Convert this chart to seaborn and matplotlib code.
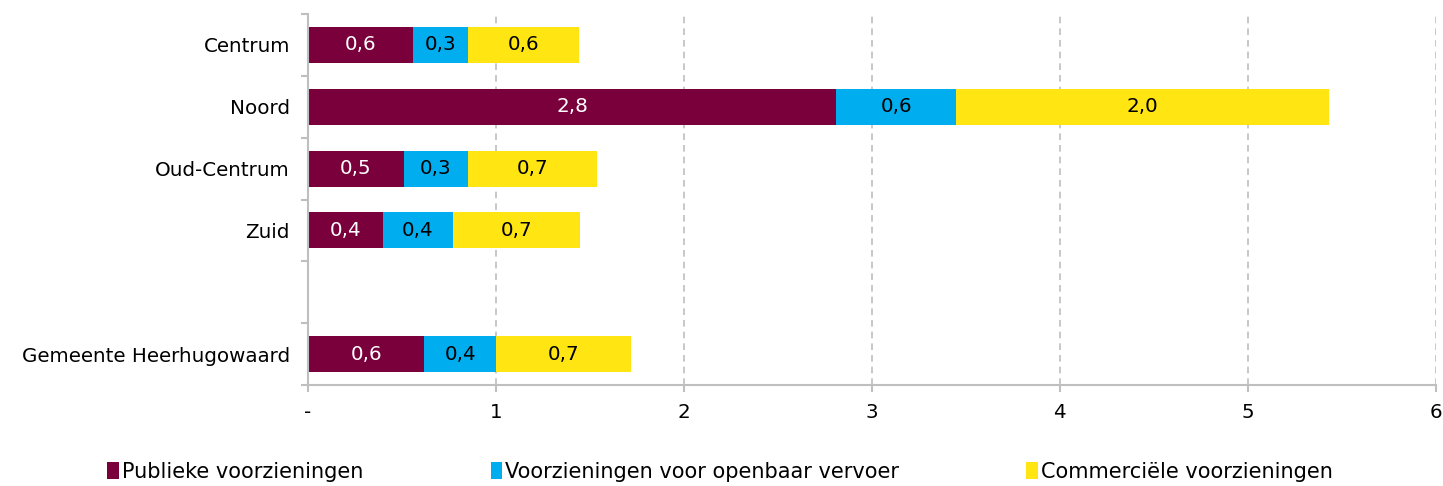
import numpy as np
import pandas as pd
import matplotlib
matplotlib.use("Agg")
import matplotlib.pyplot as plt
from matplotlib.patches import Patch
import seaborn as sns

# --- data ---
regions = ["Centrum", "Noord", "Oud-Centrum", "Zuid", " ", "Gemeente Heerhugowaard"]
publiek = [0.56, 2.81, 0.51, 0.40, 0.0, 0.62]
ov = [0.29, 0.64, 0.34, 0.37, 0.0, 0.38]
commercieel = [0.59, 1.98, 0.69, 0.68, 0.0, 0.72]
series_names = ["Publieke voorzieningen", "Voorzieningen voor openbaar vervoer", "Commerciële voorzieningen"]
colors = ["#7A003C", "#00AEEF", "#FFE512"]
text_colors = ["white", "black", "black"]
xtick_labels = ["-", "1", "2", "3", "4", "5", "6"]

df = pd.DataFrame({"regio": regions, "p": publiek, "o": ov, "c": commercieel})
df["cum_p"] = df["p"]
df["cum_o"] = df["p"] + df["o"]
df["cum_c"] = df["cum_o"] + df["c"]

sns.set_style("white")
plt.rcParams["font.family"] = ["DejaVu Sans"]
plt.rcParams["text.color"] = "black"
plt.rcParams["xtick.color"] = "#BFBFBF"
plt.rcParams["ytick.color"] = "#BFBFBF"
plt.rcParams["xtick.labelcolor"] = "black"
plt.rcParams["ytick.labelcolor"] = "black"

FS = 14.3

fig, ax = plt.subplots(figsize=(14.43, 4.86), dpi=100)
fig.subplots_adjust(left=0.2134, right=0.995, bottom=0.208, top=0.971)

# stacked bars: draw totals first, then smaller cumulative sums on top
for col, color in zip(["cum_c", "cum_o", "cum_p"], colors[::-1]):
    sns.barplot(data=df, x=col, y="regio", order=regions, color=color,
                width=0.58, orient="h", ax=ax, saturation=1, edgecolor="none")

# value labels in the middle of each segment
for i, row in df.iterrows():
    if row["regio"].strip() == "":
        continue
    starts = [0, row["cum_p"], row["cum_o"]]
    vals = [row["p"], row["o"], row["c"]]
    for s, v, tc in zip(starts, vals, text_colors):
        ax.text(s + v / 2, i, f"{v:.1f}".replace(".", ","), ha="center", va="center",
                color=tc, fontsize=FS)

ax.set_xlim(0, 6)
ax.set_ylim(5.5, -0.5)
ax.set_xticks(range(7))
ax.set_xticklabels(xtick_labels, fontsize=FS)
ax.set_yticks(range(len(regions)))
ax.set_yticklabels(regions, fontsize=FS)
ax.set_yticks(np.arange(-0.5, len(regions), 1), minor=True)
ax.tick_params(axis="y", which="both", left=True)
ax.tick_params(axis="y", which="major", length=0, pad=13)
ax.tick_params(axis="y", which="minor", length=5, width=1.5)
ax.tick_params(axis="x", bottom=True, length=5, width=1.5, pad=8)
ax.set_xlabel("")
ax.set_ylabel("")

ax.grid(axis="x", color="#BFBFBF", linestyle=(0, (4, 3)), linewidth=1.2)
ax.set_axisbelow(True)
for side in ["top", "right"]:
    ax.spines[side].set_visible(False)
for side in ["left", "bottom"]:
    ax.spines[side].set_color("#BFBFBF")
    ax.spines[side].set_linewidth(1.5)

handles = [Patch(facecolor=c, edgecolor="none") for c in colors]
fig.legend(handles, series_names, loc="lower left", bbox_to_anchor=(0.0615, -0.03),
           ncol=3, frameon=False, fontsize=15, handlelength=0.55, handleheight=0.9,
           handletextpad=0.15, columnspacing=6.1)

fig.savefig("out.png", dpi=100)
